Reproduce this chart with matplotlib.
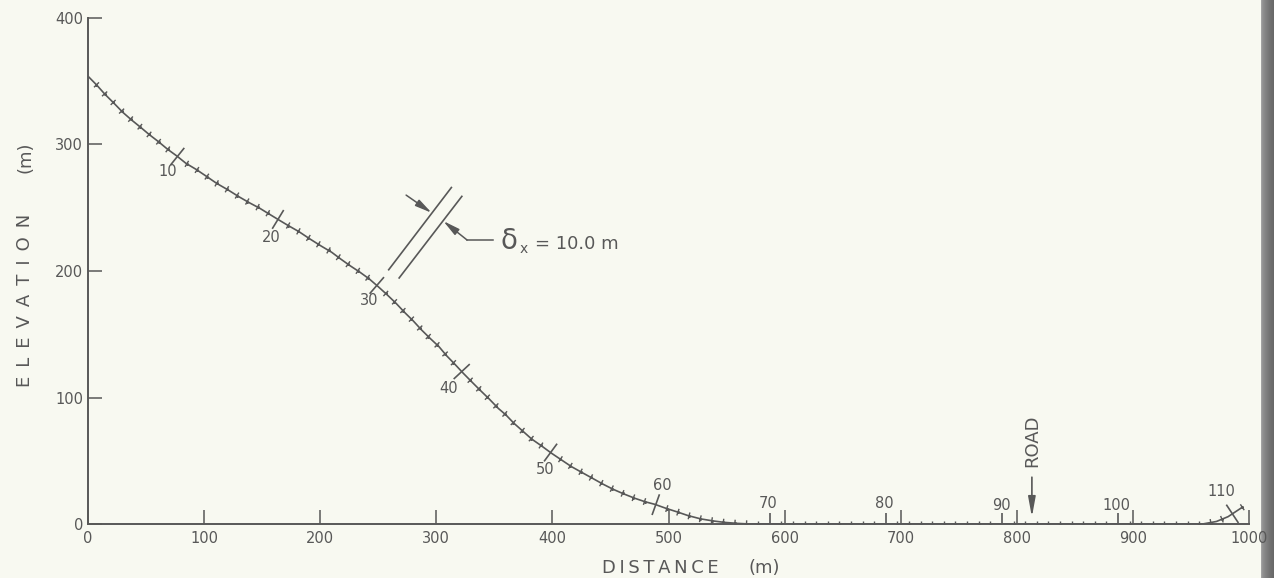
import numpy as np
import matplotlib
matplotlib.use("Agg")
import matplotlib.pyplot as plt
from matplotlib.collections import LineCollection

# Hillslope profile: horizontal distance (m) and elevation (m)
distance = [0, 7.5, 14.6, 22.4, 29.9, 37.5, 45.3, 52.8, 60.6, 68.6, 76.4, 84.4,
            93.0, 101.6, 110.8, 120.8, 130.0, 138.9, 148.1, 156.1, 164.5, 172.5,
            181.7, 191.2, 200.7, 209.9, 217.6, 225.7, 234.3, 242.3, 250.0, 257.2,
            265.3, 273.0, 280.2, 287.3, 294.6, 302.3, 308.9, 316.1, 323.3, 330.4,
            337.6, 345.6, 353.4, 360.0, 366.9, 374.4, 382.1, 390.7, 399.3, 407.9,
            416.5, 425.7, 434.6, 443.8, 452.4, 461.7, 471.1, 479.8, 488.4, 497.8,
            507.0, 517.0, 528.0, 538.6, 548.0, 559.0, 570.0, 960.0, 972.0, 982.0,
            995.0]
elevation = [354.0, 347.0, 339.7, 332.6, 325.5, 319.4, 313.6, 307.8, 302.3, 296.2,
             291.0, 285.1, 280.4, 275.1, 269.3, 264.0, 258.7, 254.0, 249.5, 245.0,
             240.3, 235.9, 231.1, 225.3, 219.8, 214.8, 209.5, 204.2, 199.0, 193.7,
             187.6, 181.6, 174.5, 167.0, 160.5, 153.4, 146.8, 140.2, 133.0, 126.2,
             119.1, 112.5, 105.9, 98.8, 91.4, 86.2, 79.6, 73.5, 67.2, 61.7,
             55.9, 50.6, 45.3, 40.6, 36.1, 31.4, 27.4, 23.7, 20.3, 17.6,
             15.5, 12.4, 9.7, 6.6, 4.0, 2.4, 1.3, 0.5, 0.0, 0.0,
             2.0, 5.8, 13.7]

# Node spacing along the slope and labelled nodes
DELTA_X = 10.0
node_labels = [10, 20, 30, 40, 50, 60, 70, 80, 90, 100, 110]
# label offsets from the node, in pixels
label_offsets = [(-10, -15), (-7, -18), (-8, -15), (-13, -17), (-5, -17), (7, 19),
                 (-2, 21), (-2, 20), (0, 18), (-2, 19), (-11, 22)]

x_ticks = [0, 100, 200, 300, 400, 500, 600, 700, 800, 900, 1000]
y_ticks = [0, 100, 200, 300, 400]
road_distance = 813

INK = "#585858"
BG = "#f8f9f1"

plt.rcParams["font.family"] = ["DejaVu Sans"]

fig = plt.figure(figsize=(12.74, 5.78), dpi=100, facecolor=BG)

# darkened right-hand margin of the sheet (drawn underneath the plot)
edge = fig.add_axes([1261 / 1274, 0, 13 / 1274, 1])
edge.imshow(np.linspace(0, 1, 13)[None, :] ** 0.6, aspect="auto", cmap="Greys",
            vmin=-2.2, vmax=2.6, extent=(0, 1, 0, 1))
edge.set_axis_off()
edge.set_zorder(-1)

ax = fig.add_axes([88 / 1274, 54 / 578, 1161 / 1274, 506 / 578])
ax.set_facecolor(BG)
ax.set_xlim(0, 1000)
ax.set_ylim(0, 400)

for side in ("top", "right"):
    ax.spines[side].set_visible(False)
for side in ("left", "bottom"):
    ax.spines[side].set_color(INK)
    ax.spines[side].set_linewidth(1.4)

ax.set_xticks(x_ticks)
ax.set_yticks(y_ticks)
ax.tick_params(direction="in", length=10, width=1.1, color=INK, labelcolor=INK,
               labelsize=10.5)
ax.tick_params(axis="x", pad=5)
ax.tick_params(axis="y", pad=3.5)

# profile line
ax.plot(distance, elevation, color=INK, lw=1.2, solid_capstyle="butt", zorder=3)

# nodes every DELTA_X metres of slope length
pts = np.column_stack([distance, elevation])
seg_len = np.hypot(np.diff(pts[:, 0]), np.diff(pts[:, 1]))
arc = np.concatenate([[0.0], np.cumsum(seg_len)])
n_nodes = int(arc[-1] // DELTA_X)
node_s = np.arange(1, n_nodes + 1) * DELTA_X
node_x = np.interp(node_s, arc, pts[:, 0])
node_y = np.interp(node_s, arc, pts[:, 1])

fig.canvas.draw()
to_disp = ax.transData
to_data = ax.transData.inverted()
disp_pts = to_disp.transform(pts)
disp_nodes = to_disp.transform(np.column_stack([node_x, node_y]))
seg_idx = np.clip(np.searchsorted(arc, node_s, side="right") - 1, 0, len(pts) - 2)
tang = disp_pts[seg_idx + 1] - disp_pts[seg_idx]
tang /= np.hypot(tang[:, 0], tang[:, 1])[:, None]
normal = np.column_stack([-tang[:, 1], tang[:, 0]])

node_num = np.arange(1, n_nodes + 1)
small_segs, big_segs = [], []
for k, n in enumerate(node_num):
    half = 11.0 if n in node_labels else 3.5
    a = to_data.transform(disp_nodes[k] - half * normal[k])
    b = to_data.transform(disp_nodes[k] + half * normal[k])
    (big_segs if n in node_labels else small_segs).append([a, b])

ax.add_collection(LineCollection(small_segs, colors=INK, linewidths=1.0, zorder=4))
ax.add_collection(LineCollection(big_segs, colors=INK, linewidths=1.2, zorder=4))
small_mask = ~np.isin(node_num, node_labels)
ax.plot(node_x[small_mask], node_y[small_mask], "o", ms=2.2, color=INK, mec="none",
        zorder=4)

for lab, (dx, dy) in zip(node_labels, label_offsets):
    k = lab - 1
    ax.annotate(str(lab), (node_x[k], node_y[k]), xytext=(dx, dy),
                textcoords="offset pixels", ha="center", va="center",
                fontsize=10.5, color=INK, annotation_clip=False)

# slope-length scale symbol
ax.plot([259, 313], [201, 266], color=INK, lw=1.2)
ax.plot([268, 322], [194.5, 259], color=INK, lw=1.2)
arrow_kw = dict(arrowstyle="-|>,head_length=1.0,head_width=0.22", color=INK, lw=1.1,
                shrinkA=0, shrinkB=0)
ax.annotate("", xy=(296, 246), xytext=(274, 260), arrowprops=arrow_kw)
ax.annotate("", xy=(306, 239.5), xytext=(326.5, 224.5), arrowprops=arrow_kw)
ax.plot([326.5, 349], [224.5, 224.5], color=INK, lw=1.1)
ax.text(355, 224, "\u03b4", fontsize=20, color=INK, ha="left", va="center")
ax.text(372, 217, "x", fontsize=10, color=INK, ha="left", va="center")
ax.text(385, 221, "= 10.0 m", fontsize=13, color=INK, ha="left", va="center")

# road marker
ax.annotate("", xy=(road_distance, 5.5), xytext=(road_distance, 37),
            arrowprops=dict(arrowstyle="-|>,head_length=1.2,head_width=0.22",
                            color=INK, lw=1.2, shrinkA=0, shrinkB=0))
ax.text(road_distance, 66, "ROAD", rotation=90, fontsize=13, color=INK,
        ha="center", va="center")

# axis titles
thin = "\u2009"
en = "\u2002"
fig.text(660 / 1274, 1 - 568 / 578, thin.join("DISTANCE"), fontsize=13,
         color=INK, ha="center", va="center")
fig.text(764 / 1274, 1 - 568 / 578, "(m)", fontsize=13,
         color=INK, ha="center", va="center")
fig.text(25 / 1274, 1 - 300 / 578, en.join("ELEVATION"), fontsize=13,
         color=INK, ha="center", va="center", rotation=90)
fig.text(25 / 1274, 1 - 157 / 578, "(m)", fontsize=13,
         color=INK, ha="center", va="center", rotation=90)

fig.savefig("out.png", dpi=100, facecolor=BG)
